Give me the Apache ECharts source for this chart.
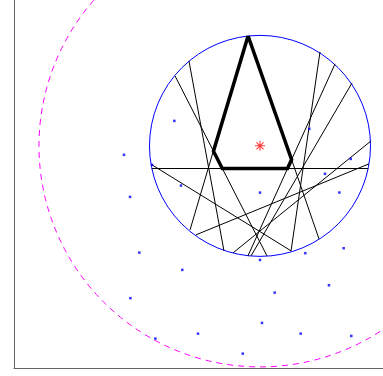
<!DOCTYPE html>
<html>
<head>
<meta charset="utf-8">
<script src="https://cdn.jsdelivr.net/npm/echarts@6/dist/echarts.min.js"></script>
<style>html,body{margin:0;padding:0;background:#fff}#c{width:383px;height:376px}</style>
</head>
<body>
<div id="c"></div>
<script>
// Circles: [cx, cy, radius]
const innerCircle = [0, 0, 1];
const outerCircle = [0, 0, 2];
// Chords of the inner circle
const chordStart = [[-0.769,0.633],[-0.643,0.769],[0.543,0.851],[0.679,0.742],[0.833,0.570],[1.005,0.045],[0.986,-0.163],[-0.977,-0.172],[-0.979,-0.205],[-0.633,-0.760],[-0.100,0.995]];
const chordEnd   = [[0.063,-0.995],[-0.326,-0.950],[0.281,-0.950],[-0.109,-0.995],[-0.081,-0.995],[-0.244,-0.968],[-0.579,-0.805],[0.281,-0.950],[0.979,-0.205],[-0.115,0.993],[0.534,-0.842]];
// Thick polygon (region bounded by chords)
const polyX = [-0.108,-0.421,-0.341,0.249,0.286,-0.108];
const polyY = [0.994,-0.048,-0.205,-0.205,-0.124,0.994];
// Blue points
const ptX = [-0.775,-1.231,-0.977,-0.715,-1.176,0.000,0.446,0.821,0.588,0.718,-1.092,-0.703,0.000,0.410,0.757,0.624,0.133,-1.173,0.018,-0.561,0.368,0.826,-0.947,-0.156];
const ptY = [0.226,-0.081,-0.172,-0.359,-0.462,-0.423,0.154,-0.118,-0.253,-0.422,-0.966,-1.122,-1.032,-0.971,-0.926,-1.261,-1.328,-1.378,-1.602,-1.699,-1.699,-1.720,-1.744,-1.880];
// Center marker
const center = [0, 0];

const chart = echarts.init(document.getElementById('c'), null, {renderer:'canvas'});
function circleSeries(c, color, dash){
  return {
    type:'custom', coordinateSystem:'cartesian2d', silent:true,
    data:[c], encode:{x:0,y:1},
    renderItem:function(params, api){
      const p = api.coord([api.value(0), api.value(1)]);
      const r = api.size([api.value(2), 0])[0];
      return {type:'circle', shape:{cx:p[0], cy:p[1], r:r},
        style:{fill:null, stroke:color, lineWidth:1, lineDash:dash}};
    }
  };
}
const axisCommon = {
  type:'value', splitLine:{show:false}, axisTick:{show:false}, axisLabel:{show:false},
  axisLine:{show:true, onZero:false, lineStyle:{color:'#666', width:1}}
};
chart.setOption({
  animation:false,
  backgroundColor:'#fff',
  grid:{left:14, right:0, top:0, bottom:8, containLabel:false},
  xAxis:Object.assign({min:-2.226, max:1.113}, axisCommon),
  yAxis:Object.assign({min:-2.01, max:1.32}, axisCommon),
  series:[
    circleSeries(outerCircle, '#ff00ff', [6,5]),
    circleSeries(innerCircle, '#0000ff', null),
    {
      type:'lines', coordinateSystem:'cartesian2d', silent:true,
      lineStyle:{color:'#000', width:1, opacity:1},
      data: chordStart.map((s,i)=>({coords:[s, chordEnd[i]]}))
    },
    {
      type:'line', silent:true, symbol:'none',
      lineStyle:{color:'#000', width:3.5, join:'miter', miterLimit:2},
      data: polyX.map((x,i)=>[x, polyY[i]])
    },
    {
      type:'scatter', silent:true, symbol:'rect', symbolSize:2.5,
      itemStyle:{color:'#0000ff'},
      data: ptX.map((x,i)=>[x, ptY[i]])
    },
    {
      type:'scatter', silent:true, symbolSize:10,
      symbol:'path://M9,0L11,0L11,20L9,20ZM0,9L20,9L20,11L0,11ZM2.2,3.6L3.6,2.2L17.8,16.4L16.4,17.8ZM16.4,2.2L17.8,3.6L3.6,17.8L2.2,16.4Z',
      itemStyle:{color:'#ff0000'},
      data:[center]
    }
  ]
});
</script>
</body>
</html>
